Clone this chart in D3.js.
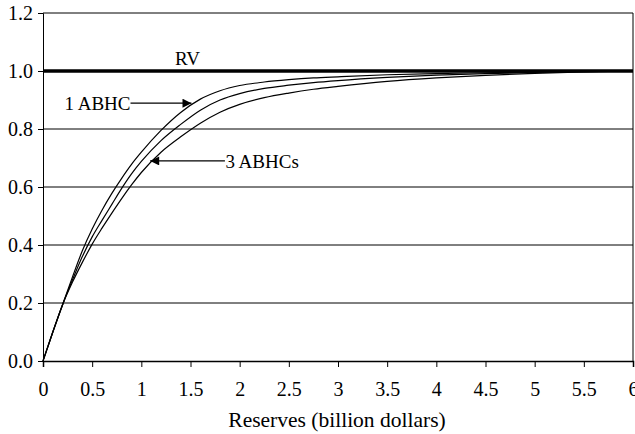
<!DOCTYPE html>
<html>
<head>
<meta charset="utf-8">
<script src="https://cdn.jsdelivr.net/npm/d3@7"></script>
<style>
    body { margin: 0; background: #fff; }
    text { font-family: "Liberation Serif", "Times New Roman", serif; fill: #000; }
</style>
</head>
<body>
<svg id="chart"></svg>
<script>
// data
const reserves = [0, 0.1, 0.2, 0.3, 0.4, 0.5, 0.6, 0.7, 0.8, 0.9, 1.0, 1.2, 1.4, 1.6, 1.8, 2.0, 2.25, 2.5, 2.75, 3.0, 3.5, 4.0, 4.5, 5.0, 5.5, 6.0];
const oneABHC = [0, 0.1, 0.195, 0.29, 0.38, 0.455, 0.52, 0.578, 0.63, 0.678, 0.72, 0.795, 0.857, 0.903, 0.932, 0.95, 0.962, 0.97, 0.976, 0.98, 0.987, 0.991, 0.994, 0.997, 0.999, 1.0];
const twoABHC = [0, 0.1, 0.195, 0.28, 0.36, 0.428, 0.485, 0.54, 0.595, 0.645, 0.688, 0.76, 0.816, 0.865, 0.9, 0.922, 0.94, 0.951, 0.96, 0.967, 0.978, 0.986, 0.991, 0.995, 0.998, 1.0];
const threeABHC = [0, 0.1, 0.195, 0.272, 0.34, 0.403, 0.458, 0.51, 0.56, 0.607, 0.65, 0.72, 0.773, 0.82, 0.858, 0.885, 0.908, 0.924, 0.937, 0.947, 0.964, 0.976, 0.985, 0.992, 0.997, 1.0];
const rvValue = 1.0;
const xTicks = [0, 0.5, 1, 1.5, 2, 2.5, 3, 3.5, 4, 4.5, 5, 5.5, 6];
const yTicks = [0, 0.2, 0.4, 0.6, 0.8, 1.0, 1.2];

const margin = { top: 13, right: 2, bottom: 73, left: 43 };
const width = 635 - margin.left - margin.right;
const height = 434 - margin.top - margin.bottom;

const svg = d3.select('#chart')
    .attr('width', 635)
    .attr('height', 434)
    .append('g')
    .attr('transform', 'translate(' + margin.left + ',' + margin.top + ')');

const x = d3.scaleLinear().domain([0, 6]).range([0, width]);
const y = d3.scaleLinear().domain([0, 1.2]).range([height, 0]);

// gridlines
svg.append('g')
    .selectAll('line')
    .data(yTicks.filter(d => d > 0 && d < 1.2 && d !== rvValue))
    .join('line')
    .attr('x1', 0).attr('x2', width)
    .attr('y1', d => y(d)).attr('y2', d => y(d))
    .attr('stroke', '#000').attr('stroke-width', 1);

// frame top / right
svg.append('line').attr('x1', 0).attr('x2', width).attr('y1', y(1.2)).attr('y2', y(1.2))
    .attr('stroke', '#000').attr('stroke-width', 1);
svg.append('line').attr('x1', x(6)).attr('x2', x(6)).attr('y1', 0).attr('y2', height)
    .attr('stroke', '#000').attr('stroke-width', 1);

// axes
const xAxis = svg.append('g')
    .attr('transform', 'translate(0,' + height + ')')
    .call(d3.axisBottom(x).tickValues(xTicks).tickSize(6).tickPadding(15).tickFormat(d3.format('')));
const yAxis = svg.append('g')
    .call(d3.axisLeft(y).tickValues(yTicks).tickSize(5).tickPadding(5).tickFormat(d3.format('.1f')));
[xAxis, yAxis].forEach(a => {
    a.select('.domain').attr('stroke', '#000').attr('stroke-width', 1.5);
    a.selectAll('.tick line').attr('stroke', '#000').attr('stroke-width', 1);
    a.selectAll('text').style('font-size', '20px').style('font-family', '"Liberation Serif", serif');
});
yAxis.select('.domain').attr('stroke-width', 1);

// RV line
svg.append('line')
    .attr('x1', 0).attr('x2', width)
    .attr('y1', y(rvValue)).attr('y2', y(rvValue))
    .attr('stroke', '#000').attr('stroke-width', 3.5);

// curves
const line = d3.line()
    .x(d => x(d[0]))
    .y(d => y(d[1]))
    .curve(d3.curveMonotoneX);
[oneABHC, twoABHC, threeABHC].forEach(s => {
    svg.append('path')
        .datum(reserves.map((r, i) => [r, s[i]]))
        .attr('fill', 'none')
        .attr('stroke', '#000')
        .attr('stroke-width', 1.2)
        .attr('d', line);
});

// arrow head
svg.append('defs').append('marker')
    .attr('id', 'arrow')
    .attr('viewBox', '0 0 10 10')
    .attr('refX', 10).attr('refY', 5)
    .attr('markerWidth', 15).attr('markerHeight', 9)
    .attr('markerUnits', 'userSpaceOnUse')
    .attr('orient', 'auto')
    .append('path').attr('d', 'M0,0L10,5L0,10Z').attr('fill', '#000');

// labels
svg.append('text')
    .attr('x', x(1.47)).attr('y', y(1.045))
    .attr('text-anchor', 'middle').attr('dy', '0.35em')
    .style('font-size', '19px').text('RV');

svg.append('text')
    .attr('x', x(0.89)).attr('y', y(0.889))
    .attr('text-anchor', 'end').attr('dy', '0.35em')
    .style('font-size', '19px').text('1 ABHC');
svg.append('line')
    .attr('x1', x(0.89)).attr('x2', x(1.51))
    .attr('y1', y(0.889)).attr('y2', y(0.889))
    .attr('stroke', '#000').attr('stroke-width', 1.2)
    .attr('marker-end', 'url(#arrow)');

svg.append('text')
    .attr('x', x(1.855)).attr('y', y(0.69))
    .attr('text-anchor', 'start').attr('dy', '0.35em')
    .style('font-size', '19px').text('3 ABHCs');
svg.append('line')
    .attr('x1', x(1.85)).attr('x2', x(1.09))
    .attr('y1', y(0.69)).attr('y2', y(0.69))
    .attr('stroke', '#000').attr('stroke-width', 1.2)
    .attr('marker-end', 'url(#arrow)');

// x axis title
svg.append('text')
    .attr('x', x(3) - 1).attr('y', height + 66)
    .attr('text-anchor', 'middle')
    .style('font-size', '21.5px')
    .text('Reserves (billion dollars)');
</script>
</body>
</html>
